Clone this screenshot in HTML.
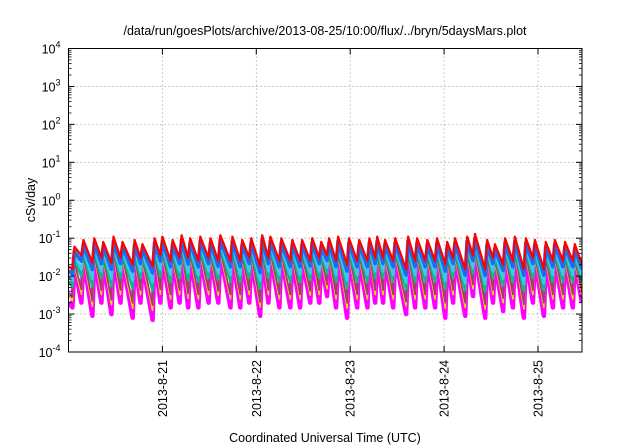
<!DOCTYPE html>
<html><head><meta charset="utf-8"><style>
html,body{margin:0;padding:0;background:#fff;}
svg{display:block;font-family:"Liberation Sans",sans-serif;}
</style></head><body>
<svg id="chart" width="640" height="448" viewBox="0 0 640 448" xmlns="http://www.w3.org/2000/svg">
<text x="325" y="35" font-size="12.5" text-anchor="middle" fill="#000">/data/run/goesPlots/archive/2013-08-25/10:00/flux/../bryn/5daysMars.plot</text>
<text x="0" y="0" font-size="12.5" text-anchor="middle" transform="translate(35,200) rotate(-90)">cSv/day</text>
<text x="325" y="442" font-size="12.5" text-anchor="middle">Coordinated Universal Time (UTC)</text>
<g id="grid"></g>
<defs><clipPath id="clip"><rect x="68.5" y="48.5" width="513.5" height="303.5"/></clipPath></defs>
<g id="series" clip-path="url(#clip)"></g>
<g id="axes"></g>
</svg>
<script>
const hours=[1.5,3.8,6.6,8.9,11.5,13.8,16.9,18.9,22.0,24.0,26.6,28.9,31.1,33.7,36.3,38.8,41.9,44.4,46.7,49.5,51.6,54.4,57.2,59.7,62.3,64.6,66.6,68.9,71.7,74.3,76.9,78.9,80.9,83.5,86.8,89.1,91.7,94.2,96.8,98.8,101.9,103.9,107.0,109.0,111.6,114.1,116.9,119.2,122.0,124.3,126.9,129.4];
const peakRed=[0.06,0.09,0.10,0.08,0.11,0.08,0.09,0.07,0.10,0.11,0.09,0.12,0.10,0.11,0.10,0.12,0.11,0.09,0.10,0.12,0.11,0.10,0.09,0.09,0.10,0.08,0.10,0.11,0.10,0.09,0.10,0.11,0.09,0.10,0.11,0.10,0.09,0.10,0.08,0.10,0.11,0.13,0.09,0.07,0.10,0.11,0.10,0.09,0.08,0.09,0.08,0.07];
const troughRed=[0.015,0.035,0.022,0.03,0.022,0.03,0.02,0.03,0.018,0.035,0.025,0.03,0.03,0.025,0.03,0.025,0.025,0.025,0.03,0.018,0.03,0.025,0.025,0.025,0.025,0.03,0.035,0.025,0.02,0.025,0.025,0.03,0.03,0.025,0.015,0.025,0.025,0.025,0.02,0.03,0.015,0.035,0.015,0.03,0.02,0.025,0.015,0.03,0.015,0.025,0.025,0.025];
const troughMag=[0.0015,0.002,0.0009,0.002,0.001,0.002,0.0008,0.002,0.0007,0.002,0.0015,0.002,0.0015,0.0015,0.002,0.002,0.0015,0.0015,0.002,0.0009,0.002,0.0015,0.0015,0.0015,0.002,0.002,0.003,0.0015,0.0008,0.0015,0.0015,0.002,0.002,0.0015,0.001,0.0015,0.0015,0.0015,0.0008,0.002,0.0009,0.003,0.0008,0.002,0.0012,0.0015,0.0008,0.002,0.0009,0.0015,0.0015,0.0015];
const startRed=0.018, startMag=0.002, endRed=0.02, endMag=0.002;
const dayLabels=["2013-8-21","2013-8-22","2013-8-23","2013-8-24","2013-8-25"];
const dayHours=[24,48,72,96,120];
const yExps=[-4,-3,-2,-1,0,1,2,3,4];

const X0=68.5,X1=582,Y0=352,Y1=48.5,H0=0,H1=131.25,E0=-4,E1=4;
const xs=h=>X0+(h-H0)/(H1-H0)*(X1-X0);
const ys=v=>Y0-(Math.log10(v)-E0)/(E1-E0)*(Y0-Y1);
const NS="http://www.w3.org/2000/svg";
function mk(tag,parent,attrs){const e=document.createElementNS(NS,tag);for(const k in attrs)e.setAttribute(k,attrs[k]);parent.appendChild(e);return e;}
const grid=document.getElementById('grid'),axes=document.getElementById('axes'),ser=document.getElementById('series');

yExps.forEach(e=>{
  const y=ys(Math.pow(10,e));
  if(e>E0&&e<E1){const g=mk('line',grid,{x1:X0,x2:X1,y1:y,y2:y,stroke:'#aaa','stroke-width':0.8,'stroke-dasharray':'1.5,2.5'});
  
  }
  mk('line',axes,{x1:X0,x2:X0+6,y1:y,y2:y,stroke:'#000'});
  mk('line',axes,{x1:X1-6,x2:X1,y1:y,y2:y,stroke:'#000'});
  const t=mk('text',axes,{x:X0-8,y:y+5,'font-size':'12.5','text-anchor':'end'});
  
  
  const b=document.createElementNS(NS,'tspan');b.textContent='10';t.appendChild(b);
  const s=document.createElementNS(NS,'tspan');s.setAttribute('dy','-6');s.setAttribute('font-size','9');s.textContent=String(e);t.appendChild(s);
  if(e<E1){for(let m=2;m<10;m++){const ym=ys(m*Math.pow(10,e));
    mk('line',axes,{x1:X0,x2:X0+3,y1:ym,y2:ym,stroke:'#000','stroke-width':0.8});
    mk('line',axes,{x1:X1-3,x2:X1,y1:ym,y2:ym,stroke:'#000','stroke-width':0.8});}}
});
dayHours.forEach((h,i)=>{
  const x=xs(h);
  const g=mk('line',grid,{x1:x,x2:x,y1:Y1,y2:Y0,stroke:'#aaa','stroke-width':0.8,'stroke-dasharray':'1.5,2.5'});
  
  
  mk('line',axes,{x1:x,x2:x,y1:Y0,y2:Y0-6,stroke:'#000'});
  mk('line',axes,{x1:x,x2:x,y1:Y1,y2:Y1+6,stroke:'#000'});
  const t=mk('text',axes,{x:0,y:0,'font-size':'12.5','text-anchor':'end',transform:`translate(${x+4.5},${Y0+8}) rotate(-90)`});
  
  
  t.textContent=dayLabels[i];
});
const fr=mk('rect',axes,{x:X0,y:Y1,width:X1-X0,height:Y0-Y1,fill:'none',stroke:'#000','stroke-width':1});



const seriesDefs=[
 {name:'series-red',c:'#ff0000',w:2.2,f:0,pf:0},
 {name:'series-blue',c:'#1c6cf2',w:3.8,f:0.12,pf:0.08},
 {name:'series-cyan',c:'#3cc8f0',w:2.6,f:0.3,pf:0.15},
 {name:'series-teal',c:'#14b48c',w:2.6,f:0.45,pf:0.2},
 {name:'series-brown',c:'#a0406a',w:1.8,f:0.72,pf:0.26},
 {name:'series-yellow',c:'#e8e000',w:1.6,f:0.82,pf:0.3},
 {name:'series-magenta',c:'#ff00ff',w:4.5,f:1,pf:0.32}
];
const lerp=(a,b,f)=>Math.pow(10,Math.log10(a)+(Math.log10(b)-Math.log10(a))*f);
seriesDefs.slice().reverse().forEach(s=>{
  const pts=[[0,lerp(startRed,startMag,s.f)]];
  hours.forEach((h,i)=>{
    pts.push([h-0.5,lerp(troughRed[i],troughMag[i],s.f)]);
    pts.push([h,peakRed[i]*Math.pow(0.32,s.pf/0.32)]);
  });
  pts.push([H1,lerp(endRed,endMag,s.f)]);
  const d=pts.map((p,i)=>(i?'L':'M')+xs(p[0]).toFixed(1)+','+ys(p[1]).toFixed(1)).join('');
  const p=mk('path',ser,{d:d,fill:'none',stroke:s.c,'stroke-width':s.w,'stroke-linejoin':'round'});
  
  
});
</script>
</body></html>
